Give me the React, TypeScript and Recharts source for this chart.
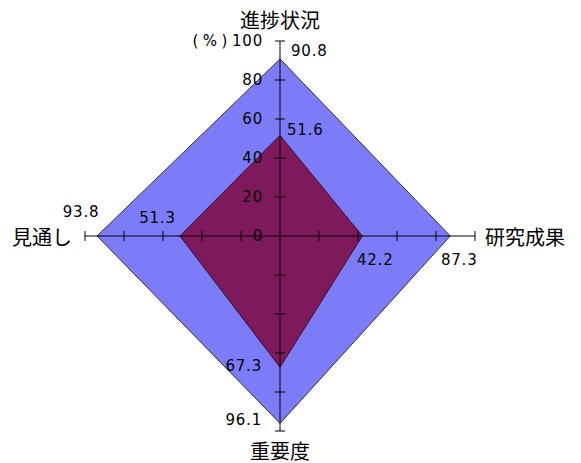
import React from 'react';
import { RadarChart, Radar, PolarAngleAxis, PolarRadiusAxis } from 'recharts';

// Axes go clockwise from the top: 進捗状況, 研究成果, 重要度, 見通し
const subjects = ['進捗状況', '研究成果', '重要度', '見通し'];
const outerValues = [90.8, 87.3, 96.1, 93.8];
const innerValues = [51.6, 42.2, 67.3, 51.3];
const radiusTicks = [0, 20, 40, 60, 80, 100];

const data = subjects.map((subject, i) => ({
  subject,
  outer: outerValues[i],
  inner: innerValues[i],
}));

const W = 581;
const H = 463;
const CX = 280;
const CY = 236;
const R = 195;

const numFont = {
  fontFamily: '"DejaVu Sans", sans-serif',
  fontSize: 15,
  letterSpacing: 0.8,
  fill: '#000',
};

const jpFont = {
  fontFamily: '"Noto Sans CJK JP", sans-serif',
  fontSize: 20,
  fill: '#000',
};

// value label placement per axis index: [dx, dy, anchor]
const outerLabelPos: [number, number, string][] = [
  [11, -8, 'start'],
  [9, 23.5, 'middle'],
  [-18, -3, 'end'],
  [-16, -24, 'middle'],
];
const innerLabelPos: [number, number, string][] = [
  [7, -5, 'start'],
  [13, 23.5, 'middle'],
  [-18, -1, 'end'],
  [-22.5, -18.5, 'middle'],
];

const makeValueLabel = (values: number[], pos: [number, number, string][], key: string) =>
  (p: any) => {
    const i = p.index;
    const [dx, dy, anchor] = pos[i];
    return (
      <text
        key={`${key}-${i}`}
        x={p.cx + dx}
        y={p.cy + dy}
        textAnchor={anchor as any}
        dominantBaseline="central"
        style={numFont}
      >
        {values[i].toFixed(1)}
      </text>
    );
  };

// Each radius tick draws its mark on all four axes; the outermost one also
// draws the three other axis lines, and the top axis carries the scale labels.
const RadiusTick = (p: any) => {
  const v = p.payload?.value;
  const cx = typeof p.cx === 'number' ? p.cx : CX;
  const cy = typeof p.cy === 'number' ? p.cy : CY;
  const r = Math.hypot(p.x - cx, p.y - cy);
  const k = 5;
  return (
    <g key={`rt-${v}`}>
      {v === 100 && (
        <g stroke="#000" strokeWidth={1}>
          <line x1={cx - r} y1={cy} x2={cx + r} y2={cy} />
          <line x1={cx} y1={cy} x2={cx} y2={cy + r} />
        </g>
      )}
      {v !== 0 && (
        <g stroke="#000" strokeWidth={1}>
          <line x1={cx - k} y1={cy - r} x2={cx + k} y2={cy - r} />
          <line x1={cx - k} y1={cy + r} x2={cx + k} y2={cy + r} />
          <line x1={cx + r} y1={cy - k} x2={cx + r} y2={cy + k} />
          <line x1={cx - r} y1={cy - k} x2={cx - r} y2={cy + k} />
        </g>
      )}
      <text x={p.x - 17} y={p.y} textAnchor="end" dominantBaseline="central" style={numFont}>
        {v === 100 && <tspan style={{ letterSpacing: 4.5 }}>(%)</tspan>}
        {String(v)}
      </text>
    </g>
  );
};

const anglePos: [number, number, string][] = [
  [0, -14, 'middle'],
  [2, 0, 'start'],
  [0, 11, 'middle'],
  [-5, 0, 'end'],
];

const AngleTick = (p: any) => {
  const i = p.index;
  const [dx, dy, anchor] = anglePos[i];
  return (
    <text
      x={p.x + dx}
      y={p.y + dy}
      textAnchor={anchor as any}
      dominantBaseline="central"
      style={jpFont}
    >
      {p.payload.value}
    </text>
  );
};

export default function App() {
  return (
    <div style={{ position: 'absolute', left: 0, top: 0, width: W, height: H }}>
      <RadarChart
        width={W}
        height={H}
        data={data}
        cx={CX}
        cy={CY}
        outerRadius={R}
        margin={{ top: 0, right: 0, bottom: 0, left: 0 }}
      >
        <PolarAngleAxis
          dataKey="subject"
          tick={AngleTick}
          axisLine={false}
          tickLine={false}
        />
        <Radar
          dataKey="outer"
          fill="#7C7CF8"
          fillOpacity={1}
          stroke="#303040"
          strokeWidth={1}
          isAnimationActive={false}
          dot={makeValueLabel(outerValues, outerLabelPos, 'o')}
        />
        <Radar
          dataKey="inner"
          fill="#7E1A5C"
          fillOpacity={1}
          stroke="#3a0c2a"
          strokeWidth={1}
          isAnimationActive={false}
          dot={makeValueLabel(innerValues, innerLabelPos, 'i')}
        />
        <PolarRadiusAxis
          angle={90}
          type="number"
          domain={[0, 100]}
          ticks={radiusTicks}
          axisLine={{ stroke: '#000', strokeWidth: 1 }}
          tick={RadiusTick}
        />
      </RadarChart>
    </div>
  );
}
